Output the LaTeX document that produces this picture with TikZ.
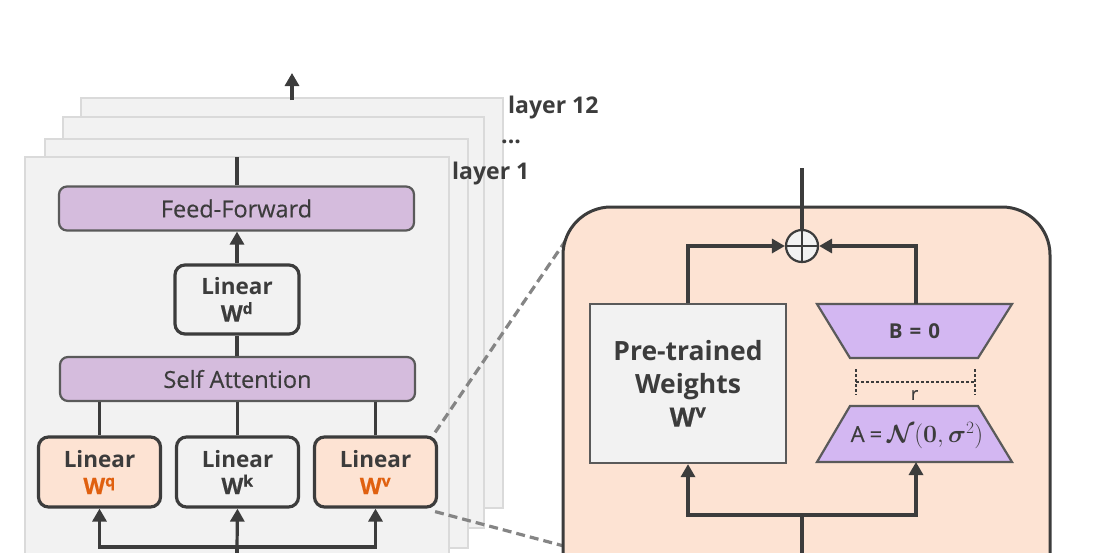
\documentclass[tikz,border=0pt]{standalone}
\usepackage[no-math]{fontspec}
\setmainfont{Open Sans}
\newfontfamily\medf{Open Sans}[FakeBold=0.4]
\usepackage{amsmath,bm}
\usetikzlibrary{arrows.meta,calc}
\definecolor{sheetfill}{HTML}{F2F2F2}
\definecolor{sheetdraw}{HTML}{DADADA}
\definecolor{purp}{HTML}{D5BCDD}
\definecolor{peach}{HTML}{FDE3D3}
\definecolor{lav}{HTML}{D3B7F2}
\definecolor{dk}{HTML}{3C3C3C}
\definecolor{mid}{HTML}{5A5A5A}
\definecolor{orng}{HTML}{E0600F}
\definecolor{dashg}{HTML}{858585}
\tikzset{
  sheet/.style={fill=sheetfill, draw=sheetdraw, line width=1.5pt},
  purpbox/.style={fill=purp, draw=mid, line width=2.2pt, rounded corners=8pt, minimum width=355pt, minimum height=44pt, inner sep=0pt, text=dk, font=\medf\fontsize{23.5}{27}\selectfont},
  linbox/.style={draw=dk, line width=3.2pt, rounded corners=10pt, minimum width=122pt, minimum height=70pt, inner sep=0pt, align=center, text=dk, font=\bfseries\fontsize{22.5}{30}\selectfont},
  conn/.style={draw=dk, line width=3.2pt},
  arr/.style={conn, -{Triangle[length=13pt,width=14pt]}},
  dsh/.style={draw=dashg, line width=3.2pt, dash pattern=on 9pt off 5pt},
  trapz/.style={fill=lav, draw=mid, line width=2.2pt},
  lbl/.style={text=dk, font=\bfseries\fontsize{23}{27}\selectfont, inner sep=0pt, anchor=west}
}
\begin{document}
\begin{tikzpicture}[x=1pt,y=-1pt]
\useasboundingbox (0,0) rectangle (1105,552);
\clip (0,0) rectangle (1105,552);
% layer sheets
\draw[sheet] (81,98) rectangle (503,508);
\draw[sheet] (63,117) rectangle (484,528);
\draw[sheet] (45,139) rectangle (468,548);
\draw[sheet] (25,157) rectangle (449,570);
\coordinate (t1) at (292,100);
\coordinate (t2) at (292,73);
\draw[arr] (t1) -- (t2);
\node[lbl] (l12) at (508,108) {layer 12};
\node[lbl] (ldots) at (501,142) {...};
\node[lbl] (l1) at (452,174) {layer 1};
% blocks
\node[purpbox] (FF) at (236.5,208.5) {Feed-Forward};
\node[linbox, fill=sheetfill, minimum width=124pt, minimum height=69pt] (Wd) at (237,299.5) {Linear\\[-3pt]{\medf W\textsuperscript{d}}};
\node[purpbox] (SA) at (237.5,379) {Self Attention};
\node[linbox, fill=peach] (Wq) at (99.5,472) {Linear\\[-3pt]{\medf\color{orng}W\textsuperscript{q}}};
\node[linbox, fill=sheetfill] (Wk) at (237.5,472) {Linear\\[-3pt]{\medf W\textsuperscript{k}}};
\node[linbox, fill=peach] (Wv) at (375.5,472) {Linear\\[-3pt]{\medf\color{orng}W\textsuperscript{v}}};
\coordinate (fftop) at (237,157);
\draw[conn] (FF.north -| fftop) -- (fftop);
\draw[arr] (Wd.north) -- (FF.south -| Wd.north);
\draw[conn] (Wd.south) -- (SA.north -| Wd.south);
\draw[conn] (Wq.north) -- (SA.south -| Wq.north);
\draw[conn] (Wk.north) -- (SA.south -| Wk.north);
\draw[conn] (Wv.north) -- (SA.south -| Wv.north);
\coordinate (inL) at (237,560);
\coordinate (splitL) at (237,547);
\draw[conn] (inL) -- (splitL);
\draw[arr] (splitL) -- (Wk.south);
\draw[arr] (splitL) -| (Wq.south);
\draw[arr] (splitL) -| (Wv.south);
% zoom dashed lines
\coordinate (zt) at (566,240);
\coordinate (zb) at (620,561);
\draw[dsh] (Wv.north east) ++(-3pt,3pt) -- (zt);
\draw[dsh] (Wv.south east) ++(-3pt,-3pt) -- (zb);
% LoRA box
\draw[fill=peach, draw=dk, line width=3pt, rounded corners=48pt] (563,620) -- (563,207) -- (1050,207) -- (1050,620);
\node[draw=mid, line width=2.2pt, fill=sheetfill, minimum width=196pt, minimum height=159pt, inner sep=0pt, align=center, text=dk, font=\bfseries\fontsize{26.5}{33}\selectfont] (PT) at (688,383.5) {Pre-trained\\Weights\\{\medf W\textsuperscript{v}}};
% B trapezoid (wide top)
\draw[trapz] (817,304) -- (1012,304) -- (978,358) -- (850,358) -- cycle;
\node[text=dk, font=\bfseries\fontsize{20.5}{24}\selectfont, inner sep=0pt] (B) at (914.5,331) {B\hspace{7pt}=\hspace{7pt}0};
\coordinate (Btop) at (916,304);
% A trapezoid (wide bottom)
\draw[trapz] (850,406) -- (978,406) -- (1012,462) -- (817,462) -- cycle;
\node[text=dk, font=\fontsize{25}{28}\selectfont, inner sep=0pt] (A) at (917,436) {\raisebox{1pt}{\medf\fontsize{22}{24}\selectfont A\hspace{5pt}=\hspace{5pt}}$\boldsymbol{\mathcal{N}}(\boldsymbol{0},\boldsymbol{\sigma}^2)$};
\coordinate (Abot) at (916,462);
\node[circle, draw=dk, line width=2.2pt, fill=sheetfill, minimum size=32pt, inner sep=0pt] (plus) at (802,246) {};
\draw[dk, line width=1.8pt] (plus.north) -- (plus.south) (plus.west) -- (plus.east);
\coordinate (out) at (802,168);
\draw[conn] (plus.north) -- (out);
\draw[arr] (PT.north) |- (plus.west);
\draw[arr] (Btop) |- (plus.east);
\coordinate (inR) at (802,560);
\coordinate (splitR) at (802,515);
\draw[conn] (inR) -- (splitR);
\draw[arr] (splitR) -| (PT.south);
\draw[arr] (splitR) -| (Abot);
% rank r
\coordinate (r1a) at (856,369);
\coordinate (r1b) at (856,395);
\coordinate (r2a) at (975,369);
\coordinate (r2b) at (975,395);
\draw[dk, line width=2.8pt, dash pattern=on 2.5pt off 2.5pt] (r1a) -- (r1b) (r2a) -- (r2b);
\draw[dk, line width=2.8pt, dash pattern=on 2.5pt off 2.5pt] ($(r1a)!0.5!(r1b)$) -- ($(r2a)!0.5!(r2b)$);
\node[text=dk, font=\medf\fontsize{18}{20}\selectfont, inner sep=0pt] (r) at (914.5,395) {r};
\end{tikzpicture}
\end{document}
